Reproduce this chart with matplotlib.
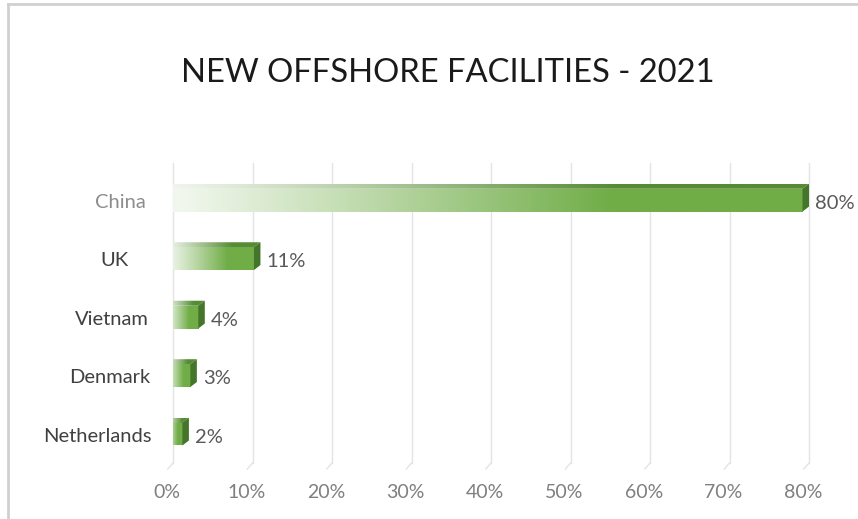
import numpy as np
import matplotlib
matplotlib.use("Agg")
import matplotlib.pyplot as plt
from matplotlib.patches import Polygon
from matplotlib.lines import Line2D
from matplotlib.colors import to_rgb
import matplotlib.transforms as mtransforms

plt.rcParams['font.family'] = ['Lato', 'DejaVu Sans']

# data
countries = ['China', 'UK', 'Vietnam', 'Denmark', 'Netherlands']
shares = [80, 11, 4, 3, 2]
xticks = [0, 10, 20, 30, 40, 50, 60, 70, 80]
title = 'NEW OFFSHORE FACILITIES - 2021'

W, H, DPI = 858, 519, 100
fig = plt.figure(figsize=(W / DPI, H / DPI), dpi=DPI)

# axes area in pixels (back wall of the 3d chart)
ax_l, ax_r, ax_t, ax_b = 173, 809, 163, 463
ax = fig.add_axes([ax_l / W, 1 - ax_b / H, (ax_r - ax_l) / W, (ax_b - ax_t) / H])
ax.set_xlim(0, 80)
ax.set_ylim(4.58, -0.55)
for s in ax.spines.values():
    s.set_visible(False)

xpp = 80 / (ax_r - ax_l)            # data x per pixel
ypp = 5.13 / (ax_b - ax_t)          # data y per pixel
dx, dy = 6.5 * xpp, 5 * ypp          # depth offset front -> back
h = 0.39

green = np.array(to_rgb('#70AD47'))
top_c = np.array(to_rgb('#568c34'))
side_c = '#44752a'
white = np.ones(3)

# gridlines on the back wall, bending to the floor
for t in xticks:
    ax.plot([t, t], [4.58, -0.55], color='#e4e4e4', lw=1, zorder=0, clip_on=False)
    ax.plot([t, t - dx * 0.8], [4.58, 4.58 + dy * 1.2], color='#e4e4e4', lw=1,
            zorder=0, clip_on=False)

def grad_row(col, v, n=300):
    xs = np.linspace(0, 1, n)
    f = np.clip(xs / 0.7, 0, 1) ** 1.1
    f = 0.08 + 0.92 * f
    rgb = white[None, :] * (1 - f[:, None]) + col[None, :] * f[:, None]
    return rgb[None, :, :]

for i, (c, v) in enumerate(zip(countries, shares)):
    # front face
    x0, x1 = -dx, v - dx
    yt, yb = i + dy - h / 2, i + dy + h / 2
    ax.imshow(grad_row(green, v), extent=[x0, x1, yb, yt], aspect='auto',
              interpolation='bilinear', zorder=3)
    # top face
    top = Polygon([(x0, yt), (x1, yt), (v, i - h / 2), (0, i - h / 2)],
                  closed=True, facecolor='none', edgecolor='none')
    ax.add_patch(top)
    im = ax.imshow(grad_row(top_c, v), extent=[x0, v, yt, i - h / 2], aspect='auto',
                   interpolation='bilinear', zorder=3)
    im.set_clip_path(top)
    # side face
    ax.add_patch(Polygon([(x1, yt), (v, i - h / 2), (v, i + h / 2), (x1, yb)],
                         closed=True, facecolor=side_c, edgecolor='none', zorder=4))
    # value label
    ax.text(v + 6 * xpp, i + dy + 3 * ypp, f'{v}%', ha='left', va='center',
            fontsize=14.5, color='#595959', zorder=5)

ax.set_xlim(0, 80)
ax.set_ylim(4.58, -0.55)

# category labels (right edges)
label_right = [146, 129, 149, 150, 152]
tr = mtransforms.blended_transform_factory(fig.transFigure, ax.transData)
for i, c in enumerate(countries):
    col = '#8c8c8c' if c == 'China' else '#404040'
    ax.text(label_right[i] / W, i + dy + 2 * ypp, c, transform=tr, ha='right',
            va='center', fontsize=14.5, color=col)

# x tick labels, shifted to the front of the floor
ax.set_yticks([])
ax.set_xticks(xticks)
ax.set_xticklabels([f'{t}%' for t in xticks], fontsize=14, color='#7f7f7f')
ax.tick_params(axis='x', length=0, pad=15)
shift = mtransforms.ScaledTranslation(-6 / DPI, 0, fig.dpi_scale_trans)
for lab in ax.get_xticklabels():
    lab.set_transform(lab.get_transform() + shift)

fig.text(448 / W, 1 - 73 / H, title, ha='center', va='center', fontsize=23.6,
         color='#1a1a1a')

# chart frame
fig.add_artist(Line2D([8 / W, 8 / W], [0, 1 - 4 / H], color='#d0d0d0', lw=2,
                      transform=fig.transFigure))
fig.add_artist(Line2D([8 / W, 1], [1 - 4 / H, 1 - 4 / H], color='#d0d0d0', lw=2,
                      transform=fig.transFigure))

fig.savefig('out.png', dpi=DPI, facecolor='white')
